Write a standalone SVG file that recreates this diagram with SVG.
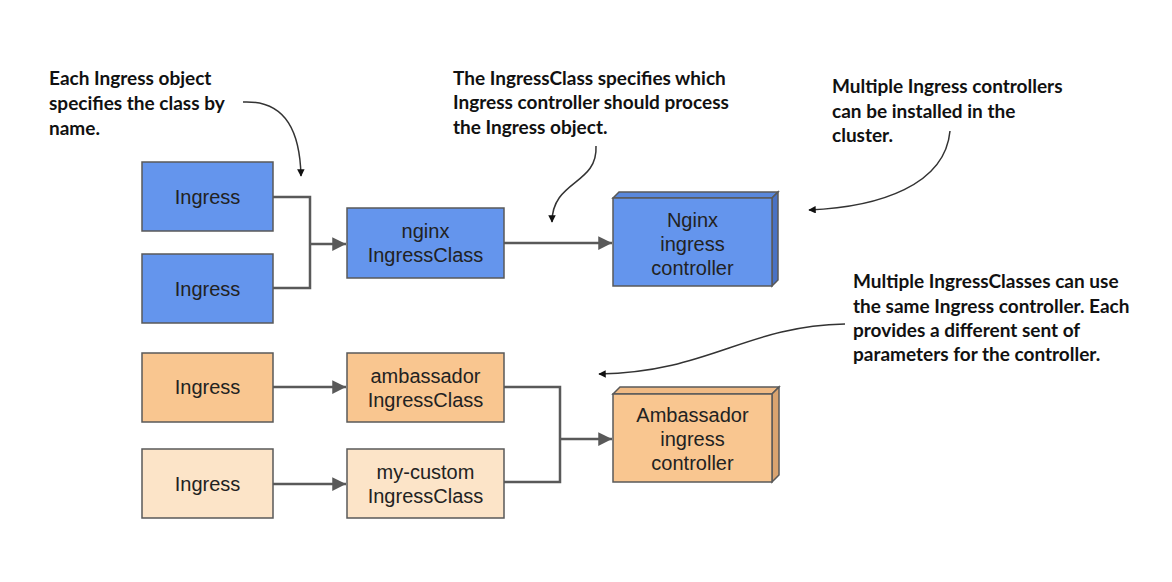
<svg xmlns="http://www.w3.org/2000/svg" width="1172" height="582" viewBox="0 0 1172 582">
<defs>
<style>
.box{stroke:#595959;stroke-width:1.5}
.blue{fill:#6495ED}
.blueTop{fill:#5A88DC}
.blueSide{fill:#4A72C4}
.orange{fill:#F9C690}
.orangeTop{fill:#F0BA84}
.orangeSide{fill:#D9A36F}
.light{fill:#FCE4C8}
.lbl{font-family:"Liberation Sans",Arial,sans-serif;font-size:20px;fill:#222;text-anchor:middle}
.note{font-family:Lato,"Open Sans",sans-serif;font-weight:bold;font-size:19px;fill:#111}
.conn{fill:none;stroke:#595959;stroke-width:2.5}
.ann{fill:none;stroke:#333;stroke-width:1.5}
</style>
<marker id="ah" viewBox="0 0 10 10" refX="10" refY="5" markerWidth="6" markerHeight="5.5" markerUnits="strokeWidth" orient="auto">
<path d="M0,0 L10,5 L0,10 z" fill="#595959"/>
</marker>
<marker id="sa" viewBox="0 0 10 10" refX="9" refY="5" markerWidth="5" markerHeight="5" markerUnits="strokeWidth" orient="auto">
<path d="M0,0 L10,5 L0,10 z" fill="#111"/>
</marker>
</defs>
<rect width="1172" height="582" fill="#fff"/>

<g id="connectors">
<path class="conn" d="M273,197 H310 V288 H273"/>
<path class="conn" d="M310,244 H346" marker-end="url(#ah)"/>
<path class="conn" d="M504,243 H612" marker-end="url(#ah)"/>
<path class="conn" d="M273,387 H346" marker-end="url(#ah)"/>
<path class="conn" d="M273,484 H346" marker-end="url(#ah)"/>
<path class="conn" d="M504,387 H560 V482 H504"/>
<path class="conn" d="M560,439 H612" marker-end="url(#ah)"/>
</g>

<g id="annotations">
<path class="ann" d="M243,102 C288,100 300,135 301,176" marker-end="url(#sa)"/>
<path class="ann" d="M596,146 C598,185 552,180 552,222" marker-end="url(#sa)"/>
<path class="ann" d="M950,131 C945,185 880,207 809,210" marker-end="url(#sa)"/>
<path class="ann" d="M845,324 C745,326 710,372 599,374" marker-end="url(#sa)"/>
<text class="note" x="49" y="85">Each Ingress object</text>
<text class="note" x="49" y="110">specifies the class by</text>
<text class="note" x="49" y="135">name.</text>
<text class="note" x="453" y="85">The IngressClass specifies which</text>
<text class="note" x="453" y="109">Ingress controller should process</text>
<text class="note" x="453" y="134">the Ingress object.</text>
<text class="note" x="832" y="93">Multiple Ingress controllers</text>
<text class="note" x="832" y="118">can be installed in the</text>
<text class="note" x="832" y="142">cluster.</text>
<text class="note" x="853" y="288">Multiple IngressClasses can use</text>
<text class="note" x="853" y="313">the same Ingress controller. Each</text>
<text class="note" x="853" y="337">provides a different sent of</text>
<text class="note" x="853" y="361">parameters for the controller.</text>
</g>

<g id="ingress-1">
<rect class="box blue" x="142" y="162" width="131" height="69"/>
<text class="lbl" x="207.5" y="204">Ingress</text>
</g>
<g id="ingress-2">
<rect class="box blue" x="142" y="254" width="131" height="69"/>
<text class="lbl" x="207.5" y="296">Ingress</text>
</g>
<g id="nginx-class">
<rect class="box blue" x="347" y="208" width="157" height="70"/>
<text class="lbl" x="425.5" y="238">nginx</text>
<text class="lbl" x="425.5" y="262">IngressClass</text>
</g>
<g id="nginx-controller">
<polygon class="box blueTop" points="613,198 619,192 778,192 772,198"/>
<polygon class="box blueSide" points="772,198 778,192 778,280 772,286"/>
<rect class="box blue" x="613" y="198" width="159" height="88"/>
<text class="lbl" x="692.5" y="227">Nginx</text>
<text class="lbl" x="692.5" y="251">ingress</text>
<text class="lbl" x="692.5" y="275">controller</text>
</g>

<g id="ingress-3">
<rect class="box orange" x="142" y="353" width="131" height="69"/>
<text class="lbl" x="207.5" y="394">Ingress</text>
</g>
<g id="ingress-4">
<rect class="box light" x="142" y="449" width="131" height="69"/>
<text class="lbl" x="207.5" y="491">Ingress</text>
</g>
<g id="ambassador-class">
<rect class="box orange" x="347" y="353" width="157" height="69"/>
<text class="lbl" x="425.5" y="383">ambassador</text>
<text class="lbl" x="425.5" y="407">IngressClass</text>
</g>
<g id="mycustom-class">
<rect class="box light" x="347" y="449" width="157" height="69"/>
<text class="lbl" x="425.5" y="479">my-custom</text>
<text class="lbl" x="425.5" y="503">IngressClass</text>
</g>
<g id="ambassador-controller">
<polygon class="box orangeTop" points="613,394 620,387 779,387 772,394"/>
<polygon class="box orangeSide" points="772,394 779,387 779,475 772,482"/>
<rect class="box orange" x="613" y="394" width="159" height="88"/>
<text class="lbl" x="692.5" y="422">Ambassador</text>
<text class="lbl" x="692.5" y="446">ingress</text>
<text class="lbl" x="692.5" y="470">controller</text>
</g>
</svg>
